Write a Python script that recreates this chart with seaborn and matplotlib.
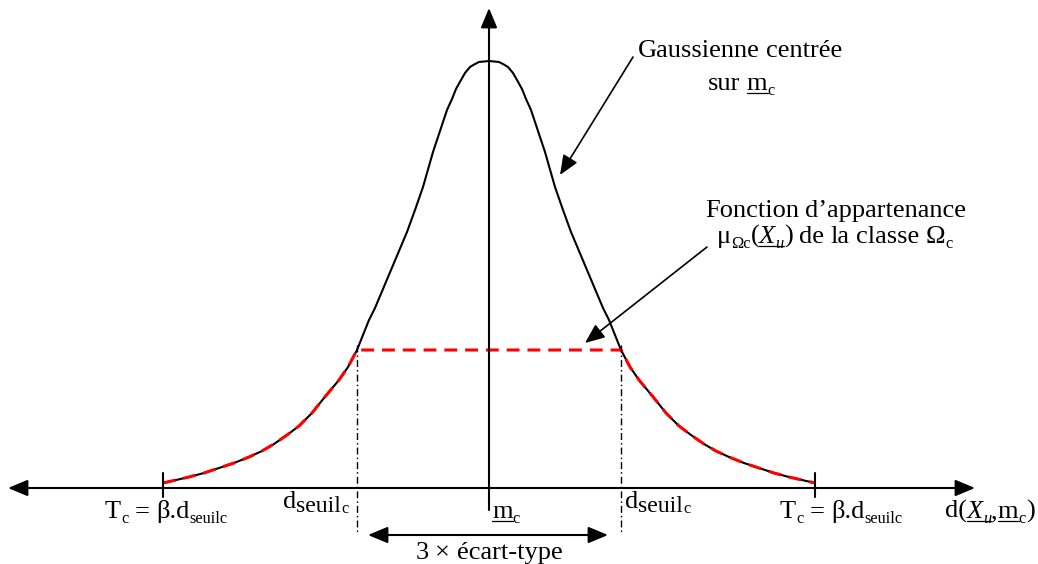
import matplotlib
matplotlib.use("Agg")
import matplotlib.pyplot as plt
import seaborn as sns

# membership diagram: gaussian centred on m_c and its truncated version
# x = distance offset from m_c, h = height above the distance axis (pixels of the drawing)
half_dx = [0, 10, 14, 19, 24, 28, 33, 37, 42, 48, 56, 66, 74, 82, 98, 114, 120, 132, 141, 150,
           165, 177, 190, 202, 215, 227, 240, 255, 270, 285, 300, 313, 326]
half_h = [427, 426, 424, 421, 415, 408, 399, 389, 378, 360, 336, 301, 278, 256, 218, 180, 168, 138, 121, 108,
          90, 75, 62, 53, 44, 37, 31, 25, 20, 15, 11, 8, 5]

curve_dx = [-x for x in half_dx[:0:-1]] + half_dx
curve_h = half_h[:0:-1] + half_h

# thresholds
d_seuil = 132          # |d_seuilc| offset from m_c
t_c = 326              # |T_c| offset from m_c

FS = 19
SERIF = ["Liberation Serif", "DejaVu Serif"]

sns.set_theme(style="white")
plt.rcParams["font.family"] = SERIF
plt.rcParams["text.color"] = "black"

fig = plt.figure(figsize=(10.38, 5.64), dpi=100)
ax = fig.add_axes([0, 0, 1, 1])
ax.set_xlim(-489, 549)
ax.set_ylim(-76, 488)
ax.axis("off")

# gaussian
sns.lineplot(x=curve_dx, y=curve_h, ax=ax, color="black", lw=1.5, sort=False)

# membership function (red dashed): tails follow the gaussian, flat between the thresholds
red_x = [x for x in curve_dx if abs(x) >= d_seuil]
red_h = [h for x, h in zip(curve_dx, curve_h) if abs(x) >= d_seuil]
sns.lineplot(x=red_x, y=red_h, ax=ax, color="red", lw=2.2, sort=False,
             linestyle=(0, (4.2, 2.6)))

# threshold lines
for s in (-1, 1):
    ax.plot([s * d_seuil, s * d_seuil], [143, -45], color="black", lw=1.0,
            linestyle=(0, (5, 2.2, 1.1, 2.2)))
    ax.plot([s * t_c, s * t_c], [15, -9], color="black", lw=1.5)

arrow = dict(arrowstyle="-|>,head_length=0.6,head_width=0.25", mutation_scale=20,
             color="black", lw=1.5, shrinkA=0, shrinkB=0)
arrow2 = dict(arrow, arrowstyle="<|-|>,head_length=0.6,head_width=0.25")

# axes of the drawing
ax.annotate("", xy=(-481, 0), xytext=(486, 0), arrowprops=arrow2)
ax.annotate("", xy=(0, 480), xytext=(0, -22), arrowprops=arrow)
ax.annotate("", xy=(-121, -47), xytext=(119, -47), arrowprops=arrow2)

# call-outs
ax.annotate("", xy=(71, 313), xytext=(144, 431), arrowprops=dict(arrow, lw=1.2))
ax.annotate("", xy=(96, 145), xytext=(218, 241), arrowprops=dict(arrow, lw=1.2))

renderer = fig.canvas.get_renderer()


def rich(x, y, runs, size=FS, ha="left"):
    """Text made of runs: (text, style) with style letters s=sub, S=big sub, i=italic, u=underline.
    A number in runs is a gap in pixels."""
    items = []
    for run in runs:
        if isinstance(run, (int, float)):
            items.append((None, run, "", 0))
            continue
        txt, st = run
        fs = size * 0.62 if "s" in st else size * 0.9 if "S" in st else size
        dy = -5 if "s" in st else -4 if "S" in st else 0
        t = ax.text(0, y + dy, txt, fontsize=fs, va="baseline", ha="left", color="black",
                    style="italic" if "i" in st else "normal", family=SERIF)
        w = t.get_window_extent(renderer).width
        items.append((t, w, st, dy))
    total = sum(w for _, w, _, _ in items)
    cx = x - total / 2 if ha == "center" else x
    for t, w, st, dy in items:
        if t is not None:
            t.set_x(cx)
            if "u" in st:
                ax.plot([cx, cx + w], [y - 2.5, y - 2.5], color="black", lw=0.9)
        cx += w


sp = 6.5
rich(149, 431, [("Gaussienne", ""), sp, ("centrée", "")])
rich(219, 398, [("sur", ""), sp, ("m", "u"), ("c", "s")])
rich(216, 271, [("Fonction", ""), sp, ("d’appartenance", "")])
rich(228, 245, [("μ", ""), ("Ωc", "s"), ("(", ""), ("X", "iu"), ("u", "isu"), (")", ""), sp,
                ("de", ""), sp, ("la", ""), sp, ("classe", ""), sp, ("Ω", ""), ("c", "s")])

for x0 in (-384, 291):
    rich(x0, -30, [("T", ""), ("c", "s"), sp, ("=", ""), sp, ("β.d", ""), ("seuilc", "s")])
for x0 in (-206, 136):
    rich(x0, -20, [("d", ""), ("seuil", "S"), ("c", "s")])
rich(3, -30, [("m", "u"), ("c", "s")])
rich(456, -30, [("d(", ""), ("X", "iu"), ("u", "isu"), (",", ""), ("m", "u"), ("c", "s"), (")", "")])
rich(0, -71, [("3", ""), sp, ("×", ""), sp, ("écart-type", "")], ha="center")

fig.savefig("out.png", dpi=100)
